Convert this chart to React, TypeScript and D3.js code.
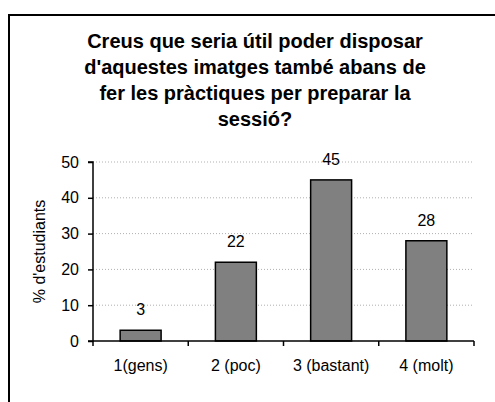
import React, { useEffect, useRef } from 'react'
import * as d3 from 'd3'

const categories = ['1(gens)', '2 (poc)', '3 (bastant)', '4 (molt)']
const values = [3, 22, 45, 28]
const yTicks = [0, 10, 20, 30, 40, 50]
const titleLines = [
  'Creus que seria útil poder disposar',
  "d'aquestes imatges també abans de",
  'fer les pràctiques per preparar la',
  'sessió?',
]
const yLabel = "% d'estudiants"

function App() {
  const svgRef = useRef<SVGSVGElement>(null)

  useEffect(() => {
    const w = 495
    const h = 402
    const svg = d3.select(svgRef.current)
    svg.selectAll('*').remove()
    svg.attr('width', w).attr('height', h)

    const font = 'Liberation Sans, Arial, sans-serif'

    // frame
    svg.append('rect')
      .attr('x', 9).attr('y', 15)
      .attr('width', 500).attr('height', 400)
      .attr('fill', 'white')
      .attr('stroke', 'black')
      .attr('stroke-width', 2)

    // title
    svg.append('g')
      .selectAll('text')
      .data(titleLines)
      .join('text')
      .attr('x', 255)
      .attr('y', (d, i) => 48 + i * 26)
      .attr('text-anchor', 'middle')
      .attr('font-family', font)
      .attr('font-weight', 'bold')
      .attr('font-size', 20)
      .attr('fill', 'black')
      .text(d => d)

    const left = 93
    const right = 474
    const top = 162
    const bottom = 341

    const x = d3.scaleBand().domain(categories).range([left, right]).paddingInner(0.57).paddingOuter(0.285)
    const band = d3.scaleBand().domain(categories).range([left, right])
    const y = d3.scaleLinear().domain([0, 50]).range([bottom, top])

    // gridlines
    svg.append('g')
      .selectAll('line')
      .data(yTicks.filter(t => t > 0))
      .join('line')
      .attr('x1', left).attr('x2', right)
      .attr('y1', d => y(d)).attr('y2', d => y(d))
      .attr('stroke', '#b0b0b0')
      .attr('stroke-width', 1)
      .attr('stroke-dasharray', '1,2')

    // bars
    svg.append('g')
      .selectAll('rect')
      .data(values)
      .join('rect')
      .attr('x', (d, i) => x(categories[i])!)
      .attr('y', d => y(d))
      .attr('width', x.bandwidth())
      .attr('height', d => bottom - y(d))
      .attr('fill', '#808080')
      .attr('stroke', 'black')
      .attr('stroke-width', 1.5)

    // value labels
    svg.append('g')
      .selectAll('text')
      .data(values)
      .join('text')
      .attr('x', (d, i) => x(categories[i])! + x.bandwidth() / 2)
      .attr('y', d => y(d) - 15)
      .attr('text-anchor', 'middle')
      .attr('font-family', font)
      .attr('font-size', 16)
      .text(d => d)

    // y axis
    const yAxis = d3.axisLeft(y).tickValues(yTicks).tickSize(5).tickPadding(9)
    const gy = svg.append('g')
      .attr('transform', `translate(${left},0)`)
      .call(yAxis)
    gy.select('.domain').attr('stroke', 'black').attr('stroke-width', 1.5).attr('d', `M-5,${top}H0V${bottom}H-5`)
    gy.selectAll('.tick line').attr('stroke', 'black').attr('stroke-width', 1.5)
    gy.selectAll('.tick text')
      .attr('font-family', font)
      .attr('font-size', 16)
      .attr('fill', 'black')

    // x axis
    const gx = svg.append('g').attr('transform', `translate(0,${bottom})`)
    gx.append('line')
      .attr('x1', left).attr('x2', right)
      .attr('stroke', 'black').attr('stroke-width', 1.5)
    gx.selectAll('line.tk')
      .data([...categories.map(c => band(c)!), right])
      .join('line')
      .attr('class', 'tk')
      .attr('x1', d => d).attr('x2', d => d)
      .attr('y1', 0).attr('y2', 5)
      .attr('stroke', 'black').attr('stroke-width', 1.5)
    gx.selectAll('text')
      .data(categories)
      .join('text')
      .attr('x', d => band(d)! + band.bandwidth() / 2)
      .attr('y', 30)
      .attr('text-anchor', 'middle')
      .attr('font-family', font)
      .attr('font-size', 16)
      .text(d => d)

    // y label
    svg.append('text')
      .attr('transform', `translate(45,${(top + bottom) / 2}) rotate(-90)`)
      .attr('text-anchor', 'middle')
      .attr('font-family', font)
      .attr('font-size', 16)
      .text(yLabel)
  }, [])

  return (
    <svg ref={svgRef} style={{ position: 'absolute', left: 0, top: 0 }} />
  )
}

export default App
